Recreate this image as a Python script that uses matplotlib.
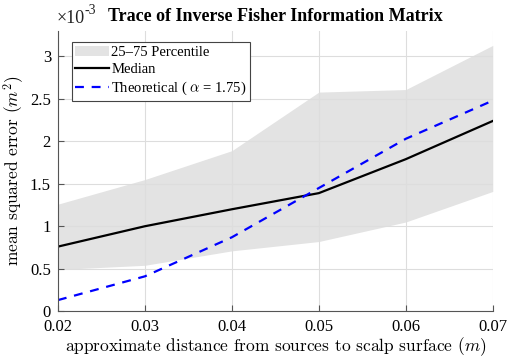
import matplotlib.pyplot as plt
import numpy as np

distance = [0.02, 0.03, 0.04, 0.05, 0.06, 0.07]
median = [0.76, 1.00, 1.20, 1.39, 1.79, 2.24]
theoretical = [0.13, 0.41, 0.87, 1.45, 2.03, 2.48]
p25 = [0.49, 0.54, 0.71, 0.82, 1.05, 1.41]
p75 = [1.26, 1.55, 1.89, 2.58, 2.61, 3.13]

plt.rcParams['mathtext.fontset'] = 'cm'
plt.rcParams['font.family'] = 'Liberation Serif'

fig = plt.figure(figsize=(5.08, 3.56), dpi=100)
ax = fig.add_axes([0.114, 0.126, 0.856, 0.787])

scale = 1e-3
ax.fill_between(distance, np.array(p25) * scale, np.array(p75) * scale,
                color='#e3e3e3', lw=0, label='25\u201375 Percentile')
ax.plot(distance, np.array(median) * scale, color='black', lw=1.6, label='Median')
ax.plot(distance, np.array(theoretical) * scale, color='blue', lw=1.6,
        ls=(0, (4, 3.5)), label=r'Theoretical ( $\alpha$ = 1.75)')

ax.set_xlim(0.02, 0.07)
ax.set_ylim(0, 3.3e-3)
ax.set_xticks(distance)
ax.set_xticklabels(['0.02', '0.03', '0.04', '0.05', '0.06', '0.07'])
ax.set_yticks(np.arange(0, 3.01, 0.5) * scale)
ax.set_yticklabels(['0', '0.5', '1', '1.5', '2', '2.5', '3'])
ax.tick_params(direction='in', labelsize=12, color='#555555', length=4,
               top=False, right=False)
ax.tick_params(axis='x', pad=5.5)
ax.tick_params(axis='y', pad=5)
ax.grid(True, color='#dddddd', lw=0.8)
for s in ax.spines.values():
    s.set_color('#555555')
ax.spines['top'].set_visible(False)
ax.spines['right'].set_visible(False)

# exponent marker, MATLAB style
ax.text(-0.003, 1.015, '\u00d710', transform=ax.transAxes,
        fontsize=13, ha='left', va='bottom', color='#222222')
ax.text(0.062, 1.05, '-3', transform=ax.transAxes,
        fontsize=10, ha='left', va='bottom', color='#222222')
ax.set_title('Trace of Inverse Fisher Information Matrix',
             fontsize=13, fontweight='bold', pad=7)
ax.set_xlabel(r'approximate distance from sources to scalp surface $(m)$',
              fontsize=12.5, family='cmr10', labelpad=0)
ax.set_ylabel(r'mean squared error $(m^2)$', fontsize=12.5, family='cmr10',
              labelpad=3)

leg = ax.legend(loc='upper left', bbox_to_anchor=(0.032, 0.96), fontsize=10.5,
                fancybox=False, edgecolor='#444444', framealpha=1,
                handlelength=2.3, handletextpad=0.15, borderpad=0.25,
                labelspacing=0.25, borderaxespad=0)
leg.get_frame().set_linewidth(0.8)

fig.savefig('out.png', dpi=100)
